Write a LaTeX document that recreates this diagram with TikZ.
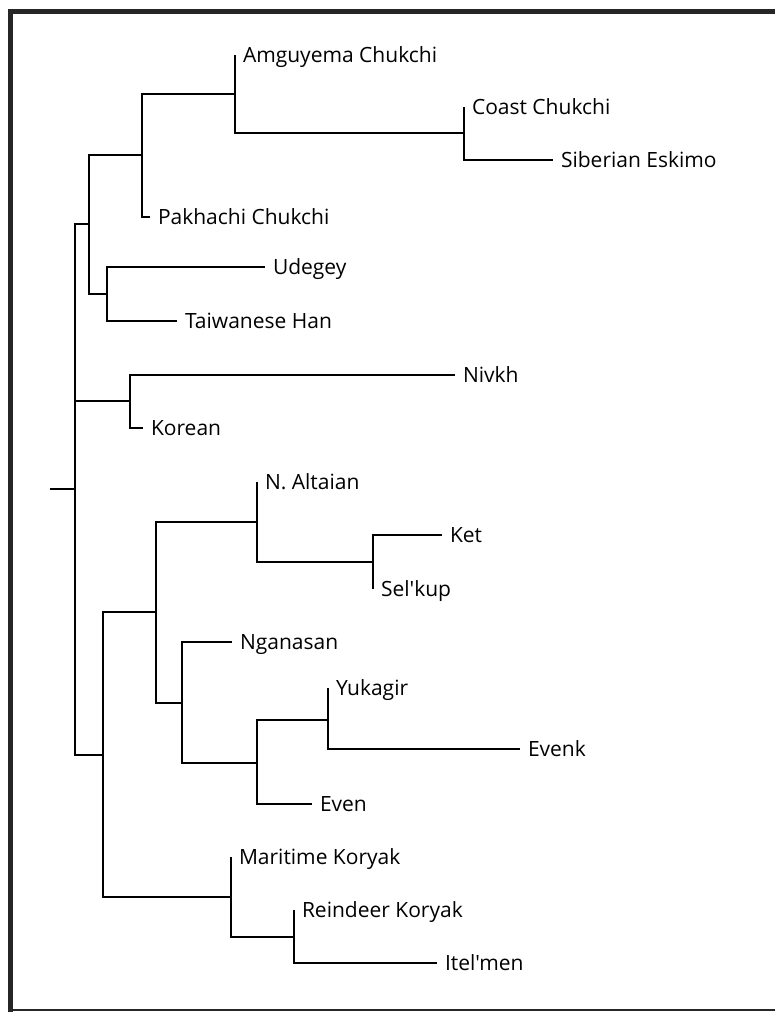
\documentclass[tikz,border=0pt]{standalone}
\usepackage{fontspec}
\newfontfamily\treefont{Open Sans}[Ligatures=TeXOff]
\begin{document}
\begin{tikzpicture}[x=1pt, y=-1pt, line width=2pt,
    leaf/.style={anchor=west, inner xsep=7pt, inner ysep=0pt, text height=14.5pt, text depth=0pt,
        font=\treefont\fontsize{21}{25}\selectfont},
    frame/.style={line width=5pt, black!85}]
    \useasboundingbox (0,0) rectangle (775,1012);
    \draw[frame] (10.5,1012) -- (10.5,11) -- (775,11);
    \draw[frame, line width=2.5pt] (8,1010) -- (775,1010);

    \coordinate (stub) at (50,489);
    \coordinate (root) at (75,489);
    \coordinate (a) at (89,224);
    \coordinate (b) at (142,155);
    \coordinate (am) at (235,94);
    \coordinate (cs) at (464,133);
    \coordinate (ut) at (107,294);
    \coordinate (nk) at (130,401);
    \coordinate (l) at (103,755);
    \coordinate (m) at (156,612);
    \coordinate (na) at (257,522);
    \coordinate (ks) at (373,562);
    \coordinate (g) at (182,703);
    \coordinate (ye) at (257,763);
    \coordinate (yk) at (328,720);
    \coordinate (k) at (231,897);
    \coordinate (ri) at (294,937);

    \node[leaf] (amg) at (235,55) {Amguyema Chukchi};
    \node[leaf] (coast) at (464,107) {Coast Chukchi};
    \node[leaf] (sib) at (553,160) {Siberian Eskimo};
    \node[leaf] (pak) at (150,217) {Pakhachi Chukchi};
    \node[leaf] (ude) at (265,267) {Udegey};
    \node[leaf] (han) at (177,321) {Taiwanese Han};
    \node[leaf] (niv) at (455,375) {Nivkh};
    \node[leaf] (kor) at (143,428) {Korean};
    \node[leaf] (alt) at (257,482) {N. Altaian};
    \node[leaf] (ket) at (442,535) {Ket};
    \node[leaf] (sel) at (373,589) {Sel'kup};
    \node[leaf] (nga) at (232,642) {Nganasan};
    \node[leaf] (yuk) at (328,688) {Yukagir};
    \node[leaf] (evk) at (520,749) {Evenk};
    \node[leaf] (even) at (312,804) {Even};
    \node[leaf] (mar) at (231,857) {Maritime Koryak};
    \node[leaf] (rei) at (294,910) {Reindeer Koryak};
    \node[leaf] (itl) at (437,963) {Itel'men};

    \draw (stub) -- (root);
    \draw (root) |- (a) (root) |- (nk) (root) |- (l);
    \draw (a) |- (b) (a) |- (ut);
    \draw (b) |- (am) (b) |- (pak.west);
    \draw (am) |- (amg.west) (am) |- (cs);
    \draw (cs) |- (coast.west) (cs) |- (sib.west);
    \draw (ut) |- (ude.west) (ut) |- (han.west);
    \draw (nk) |- (niv.west) (nk) |- (kor.west);
    \draw (l) |- (m) (l) |- (k);
    \draw (m) |- (na) (m) |- (g);
    \draw (na) |- (alt.west) (na) |- (ks);
    \draw (ks) |- (ket.west) (ks) |- (sel.west);
    \draw (g) |- (nga.west) (g) |- (ye);
    \draw (ye) |- (yk) (ye) |- (even.west);
    \draw (yk) |- (yuk.west) (yk) |- (evk.west);
    \draw (k) |- (mar.west) (k) |- (ri);
    \draw (ri) |- (rei.west) (ri) |- (itl.west);
\end{tikzpicture}
\end{document}
